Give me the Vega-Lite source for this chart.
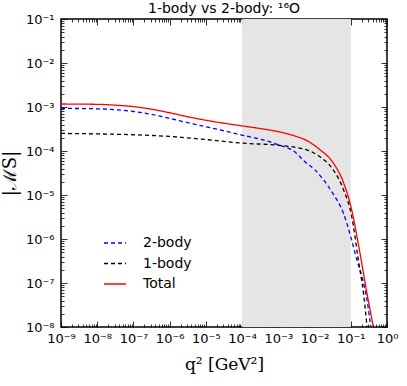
{
  "$schema": "https://vega.github.io/schema/vega-lite/v6.json",
  "width": 326,
  "height": 308,
  "autosize": {"type": "none"},
  "padding": {"left": 61, "top": 19, "right": 20, "bottom": 59},
  "background": "white",
  "title": {"text": "1-body vs 2-body: ¹⁶O", "font": "DejaVu Sans", "fontSize": 14, "fontWeight": "normal", "color": "black", "offset": -3, "anchor": "middle"},
  "config": {
    "view": {"stroke": "black", "strokeWidth": 1.5},
    "axis": {"grid": false, "domain": false, "tickColor": "black", "tickWidth": 0.8, "labelFont": "DejaVu Sans", "labelFontSize": 13, "labelColor": "black", "labelOverlap": false, "labelFlush": false}
  },
  "datasets": {
    "shade": [{"x1": 0.0001, "x2": 0.1}],
    "curves": [
      {"series": "2-body", "q2": 1e-9, "m": 9.3e-4},
      {"series": "2-body", "q2": 1e-8, "m": 9.1e-4},
      {"series": "2-body", "q2": 3.16e-8, "m": 8.7e-4},
      {"series": "2-body", "q2": 1e-7, "m": 7.9e-4},
      {"series": "2-body", "q2": 3.16e-7, "m": 6.8e-4},
      {"series": "2-body", "q2": 1e-6, "m": 5.5e-4},
      {"series": "2-body", "q2": 3.16e-6, "m": 4.4e-4},
      {"series": "2-body", "q2": 1e-5, "m": 3.55e-4},
      {"series": "2-body", "q2": 3.16e-5, "m": 2.88e-4},
      {"series": "2-body", "q2": 1e-4, "m": 2.29e-4},
      {"series": "2-body", "q2": 3.16e-4, "m": 1.86e-4},
      {"series": "2-body", "q2": 1e-3, "m": 1.38e-4},
      {"series": "2-body", "q2": 3.16e-3, "m": 8.9e-5},
      {"series": "2-body", "q2": 5.01e-3, "m": 6.0e-5},
      {"series": "2-body", "q2": 1e-2, "m": 3.8e-5},
      {"series": "2-body", "q2": 1.78e-2, "m": 2.19e-5},
      {"series": "2-body", "q2": 3.16e-2, "m": 1.1e-5},
      {"series": "2-body", "q2": 6.31e-2, "m": 3.8e-6},
      {"series": "2-body", "q2": 0.1, "m": 1.12e-6},
      {"series": "2-body", "q2": 0.148, "m": 3.3e-7},
      {"series": "2-body", "q2": 0.204, "m": 1.38e-7},
      {"series": "2-body", "q2": 0.282, "m": 3.98e-8},
      {"series": "2-body", "q2": 0.363, "m": 8.9e-9},
      {"series": "1-body", "q2": 1e-9, "m": 2.51e-4},
      {"series": "1-body", "q2": 1e-8, "m": 2.45e-4},
      {"series": "1-body", "q2": 1e-7, "m": 2.34e-4},
      {"series": "1-body", "q2": 1e-6, "m": 2.14e-4},
      {"series": "1-body", "q2": 1e-5, "m": 1.82e-4},
      {"series": "1-body", "q2": 1e-4, "m": 1.51e-4},
      {"series": "1-body", "q2": 1e-3, "m": 1.35e-4},
      {"series": "1-body", "q2": 3.16e-3, "m": 1.2e-4},
      {"series": "1-body", "q2": 6.31e-3, "m": 1.05e-4},
      {"series": "1-body", "q2": 1.41e-2, "m": 7.4e-5},
      {"series": "1-body", "q2": 3.16e-2, "m": 3.9e-5},
      {"series": "1-body", "q2": 6.31e-2, "m": 1.32e-5},
      {"series": "1-body", "q2": 0.107, "m": 3.16e-6},
      {"series": "1-body", "q2": 0.162, "m": 3.3e-7},
      {"series": "1-body", "q2": 0.224, "m": 5.9e-8},
      {"series": "1-body", "q2": 0.275, "m": 1.2e-8},
      {"series": "1-body", "q2": 0.288, "m": 7.9e-9},
      {"series": "Total", "q2": 1e-9, "m": 1.17e-3},
      {"series": "Total", "q2": 1e-8, "m": 1.15e-3},
      {"series": "Total", "q2": 3.16e-8, "m": 1.1e-3},
      {"series": "Total", "q2": 1e-7, "m": 1.02e-3},
      {"series": "Total", "q2": 3.16e-7, "m": 8.9e-4},
      {"series": "Total", "q2": 1e-6, "m": 7.4e-4},
      {"series": "Total", "q2": 3.16e-6, "m": 6.0e-4},
      {"series": "Total", "q2": 1e-5, "m": 5.0e-4},
      {"series": "Total", "q2": 3.16e-5, "m": 4.27e-4},
      {"series": "Total", "q2": 1e-4, "m": 3.72e-4},
      {"series": "Total", "q2": 3.16e-4, "m": 3.24e-4},
      {"series": "Total", "q2": 1e-3, "m": 2.75e-4},
      {"series": "Total", "q2": 3.16e-3, "m": 2.14e-4},
      {"series": "Total", "q2": 6.31e-3, "m": 1.7e-4},
      {"series": "Total", "q2": 1.41e-2, "m": 1.07e-4},
      {"series": "Total", "q2": 3.16e-2, "m": 5.6e-5},
      {"series": "Total", "q2": 6.31e-2, "m": 1.9e-5},
      {"series": "Total", "q2": 0.1, "m": 5.6e-6},
      {"series": "Total", "q2": 0.182, "m": 4.47e-7},
      {"series": "Total", "q2": 0.275, "m": 6.3e-8},
      {"series": "Total", "q2": 0.407, "m": 1.12e-8},
      {"series": "Total", "q2": 0.427, "m": 8.9e-9}
    ]
  },
  "layer": [
    {
      "data": {"name": "shade"},
      "mark": {"type": "rect", "color": "#e5e5e5"},
      "encoding": {
        "x": {
          "field": "x1", "type": "quantitative",
          "scale": {"type": "log", "domain": [1e-9, 1], "nice": false},
          "axis": {
            "orient": "bottom",
            "tickCount": 100,
            "title": "q² [GeV²]",
            "titleFont": "DejaVu Serif", "titleFontSize": 17, "titleFontWeight": "normal", "titleColor": "black", "titlePadding": 8,
            "tickSize": {"condition": {"test": "abs(log(datum.value)/LN10 - round(log(datum.value)/LN10)) < 0.01", "value": -6}, "value": -3},
            "labelPadding": 11,
            "labelExpr": "abs(log(datum.value)/LN10 - round(log(datum.value)/LN10)) < 0.01 ? ['10⁻⁹','10⁻⁸','10⁻⁷','10⁻⁶','10⁻⁵','10⁻⁴','10⁻³','10⁻²','10⁻¹','10⁰'][round(log(datum.value)/LN10)+9] : ''"
          }
        },
        "x2": {"field": "x2"}
      }
    },
    {
      "data": {"name": "curves"},
      "mark": {"type": "line", "clip": true, "interpolate": "monotone"},
      "encoding": {
        "x": {
          "field": "q2", "type": "quantitative",
          "axis": {
            "orient": "top", "tickCount": 100, "labels": false, "title": null,
            "tickSize": {"condition": {"test": "abs(log(datum.value)/LN10 - round(log(datum.value)/LN10)) < 0.01", "value": -6}, "value": -3}
          }
        },
        "y": {
          "field": "m", "type": "quantitative",
          "scale": {"type": "log", "domain": [1e-8, 0.1], "nice": false},
          "axis": {
            "orient": "right", "tickCount": 100, "labels": false, "title": null,
            "tickSize": {"condition": {"test": "abs(log(datum.value)/LN10 - round(log(datum.value)/LN10)) < 0.01", "value": -6}, "value": -3}
          }
        },
        "color": {
          "field": "series", "type": "nominal",
          "scale": {"domain": ["2-body", "1-body", "Total"], "range": ["#0000ff", "#000000", "#ff0000"]},
          "legend": {"title": null, "orient": "none", "legendX": 42, "legendY": 212, "symbolType": "stroke", "symbolSize": 484, "symbolStrokeWidth": 1.5, "labelFont": "DejaVu Sans", "labelFontSize": 14, "labelColor": "black", "labelOffset": 16, "rowPadding": 1.5}
        },
        "strokeDash": {
          "field": "series", "type": "nominal",
          "scale": {"domain": ["2-body", "1-body", "Total"], "range": [[4, 3], [4, 3], [1, 0]]},
          "legend": {"title": null, "orient": "none", "legendX": 42, "legendY": 212, "symbolType": "stroke", "symbolSize": 484, "symbolStrokeWidth": 1.5, "labelFont": "DejaVu Sans", "labelFontSize": 14, "labelColor": "black", "labelOffset": 16, "rowPadding": 1.5}
        },
        "strokeWidth": {
          "field": "series", "type": "nominal",
          "scale": {"domain": ["2-body", "1-body", "Total"], "range": [1.3, 1.3, 2.4]},
          "legend": null
        }
      }
    },
    {
      "data": {"name": "curves"},
      "mark": {"type": "point", "opacity": 0},
      "encoding": {
        "y": {
          "field": "m", "type": "quantitative",
          "axis": {
            "orient": "left", "tickCount": 100,
            "title": "|ℳS|",
            "titleFont": "DejaVu Serif", "titleFontSize": 18, "titleFontWeight": "normal", "titleColor": "black", "titlePadding": 6,
            "tickSize": {"condition": {"test": "abs(log(datum.value)/LN10 - round(log(datum.value)/LN10)) < 0.01", "value": -6}, "value": -3},
            "labelPadding": 13,
            "labelExpr": "abs(log(datum.value)/LN10 - round(log(datum.value)/LN10)) < 0.01 ? ['10⁻⁸','10⁻⁷','10⁻⁶','10⁻⁵','10⁻⁴','10⁻³','10⁻²','10⁻¹'][round(log(datum.value)/LN10)+8] : ''"
          }
        }
      }
    }
  ],
  "resolve": {"axis": {"x": "independent", "y": "independent"}}
}
